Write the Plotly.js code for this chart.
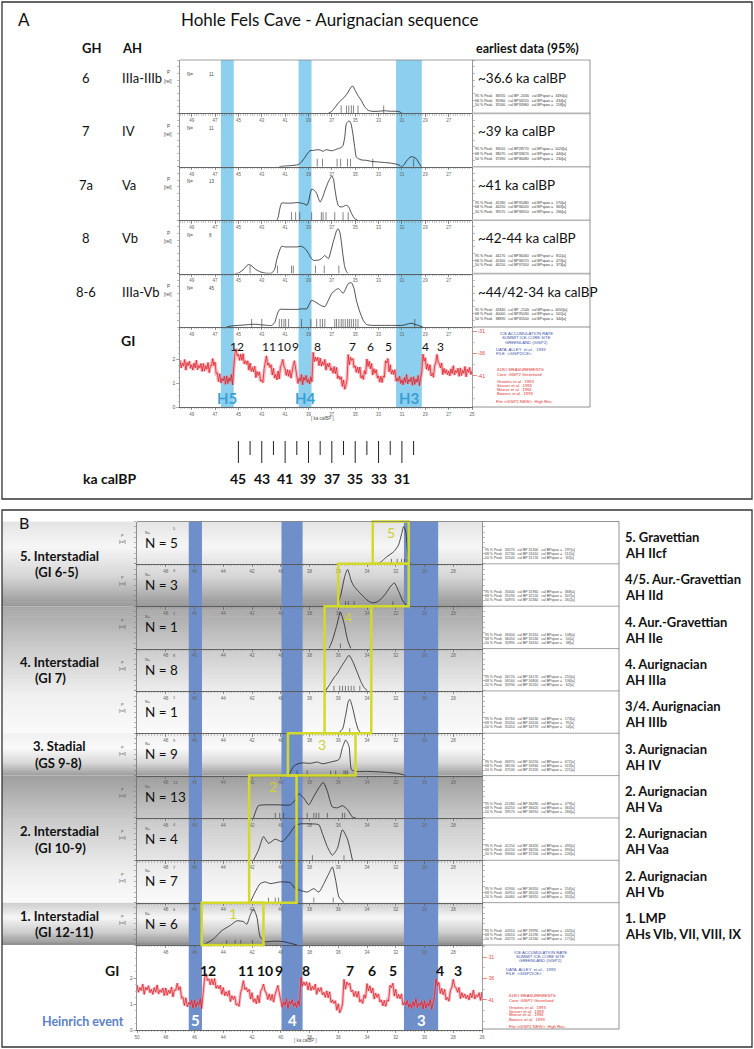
<!DOCTYPE html>
<html><head><meta charset="utf-8">
<script src="https://cdn.plot.ly/plotly-3.0.1.min.js"></script>
<style>html,body{margin:0;padding:0;background:#fff}#chart{width:754px;height:1049px}</style>
</head><body><div id="chart"></div>
<script>
// ================= DATA =================
// ---- Panel A (Hohle Fels, Aurignacian sequence) ----
const aGH = ['6','7','7a','8','8-6'];
const aAH = ['IIIa-IIIb','IV','Va','Vb','IIIa-Vb'];
const aEarliest = ['~36.6 ka calBP','~39 ka calBP','~41 ka calBP','~42-44 ka calBP','~44/42-34 ka calBP'];
const aN = ['11','11','13','8','45'];
const aStats = [
 ['95 % Peak   36920   cal BP -2030   cal BPspan =  3490[a]','68 % Peak   35960   cal BP34520   cal BPspan =   434[a]','50 % Peak   35560   cal BP33980   cal BPspan =   158[a]'],
 ['95 % Peak   39010   cal BP28770   cal BPspan =  1024[a]','68 % Peak   38070   cal BP33670   cal BPspan =   440[a]','50 % Peak   37390   cal BP36080   cal BPspan =   230[a]'],
 ['95 % Peak   41280   cal BP35480   cal BPspan =   570[a]','68 % Peak   40250   cal BP36020   cal BPspan =   363[a]','50 % Peak   39570   cal BP36910   cal BPspan =   266[a]'],
 ['95 % Peak   44170   cal BP36060   cal BPspan =   811[a]','68 % Peak   41300   cal BP36570   cal BPspan =   473[a]','50 % Peak   40150   cal BP37050   cal BPspan =   373[a]'],
 ['95 % Peak   42840   cal BP -2140   cal BPspan =  4050[a]','68 % Peak   40000   cal BP35030   cal BPspan =   501[a]','50 % Peak   38890   cal BP35500   cal BPspan =   340[a]']
];
const aAge1 = [37.3,37.0,36.7,36.46,36.2,35.9,35.6,35.33,35.2,35.0,34.75,34.5,34.2,33.9,33.6,33.0,32.5,32.0,31.5,31.2,31.0];
const aP1   = [0,0.04,0.12,0.19,0.25,0.31,0.4,0.5,0.51,0.43,0.33,0.25,0.13,0.06,0.04,0.04,0.05,0.04,0.04,0.03,0];
const aRug1 = [36.2,35.75,35.55,35.33,35.15,34.76,32.56];
const aAge2 = [41.5,41.3,40.6,39.9,39.6,39.3,39.05,38.87,38.5,38.2,37.95,37.75,37.5,37.25,37.0,36.7,36.46,36.2,36.04,35.9,35.75,35.6,35.5,35.35,35.2,35.05,34.9,34.7,34.5,34.0,33.6,33.0,32.5,32.0,31.5,31.2,31.05,30.85,30.6,30.4,30.2,30.0,29.76,29.55,29.33];
const aP2   = [0,0.01,0.02,0.04,0.09,0.18,0.26,0.3,0.31,0.32,0.31,0.29,0.32,0.31,0.3,0.32,0.34,0.36,0.4,0.55,0.81,0.85,0.86,0.8,0.62,0.38,0.18,0.15,0.13,0.12,0.1,0.09,0.08,0.07,0.05,0.03,0,0.03,0.11,0.16,0.19,0.18,0.15,0.07,0];
const aRug2 = [38.25,37.8,36.55,36.25,35.66,35.4,33.5,30.0];
const aAge3 = [41.7,41.6,41.45,41.3,41.0,40.45,40.0,39.6,39.3,39.15,39.0,38.85,38.73,38.5,38.3,38.1,38.0,37.8,37.6,37.3,37.1,37.0,36.85,36.75,36.6,36.46,36.3,36.1,35.9,35.75,35.6,35.5,35.3,35.05,34.8];
const aP3   = [0,0.05,0.22,0.32,0.32,0.32,0.33,0.32,0.3,0.28,0.34,0.5,0.58,0.56,0.5,0.38,0.34,0.42,0.55,0.72,0.8,0.83,0.76,0.6,0.4,0.28,0.25,0.25,0.27,0.28,0.26,0.22,0.12,0.03,0];
const aRug3 = [40.45,40.1,39.75,38.73,37.9,37.75,37.5,36.75,36.04,35.6];
const aAge4 = [45.3,45.0,44.6,44.16,43.9,43.59,43.2,42.73,42.16,41.9,41.73,41.5,41.3,41.0,40.45,40.0,39.6,39.3,39.0,38.8,38.6,38.3,38.03,37.8,37.6,37.3,37.05,36.9,36.75,36.6,36.46,36.3,36.2,36.05,35.9,35.75,35.6];
const aP4   = [0,0.01,0.07,0.17,0.15,0.09,0.04,0.01,0.01,0.08,0.25,0.42,0.51,0.5,0.5,0.5,0.51,0.47,0.38,0.3,0.25,0.25,0.26,0.3,0.34,0.28,0.45,0.58,0.69,0.8,0.84,0.76,0.62,0.35,0.13,0.04,0];
const aRug4 = [44.0,41.65,40.45,40.3,38.4,37.65,36.4];
const aAge5 = [46.0,45.58,45.0,44.4,43.87,43.4,43.0,42.5,42.16,41.9,41.73,41.6,41.45,41.0,40.45,40.0,39.5,39.15,38.95,38.73,38.5,38.2,37.9,37.6,37.3,37.0,36.75,36.46,36.25,36.04,35.85,35.6,35.33,35.1,34.9,34.6,34.3,34.05,33.6,33.05,32.5,32.0,31.5,31.0,30.75,30.45,30.2,29.9,29.6,29.2];
const aP5   = [0,0.02,0.03,0.04,0.05,0.05,0.04,0.03,0.03,0.08,0.2,0.28,0.33,0.33,0.33,0.33,0.34,0.34,0.42,0.5,0.48,0.44,0.4,0.38,0.5,0.63,0.68,0.72,0.68,0.63,0.7,0.81,0.83,0.72,0.5,0.28,0.12,0.05,0.03,0.03,0.03,0.03,0.03,0.03,0.04,0.06,0.07,0.05,0.03,0];
const aRug5 = [43.87,43.0,41.5,41.3,41.1,40.95,40.7,39.6,38.8,38.3,38.0,37.8,37.6,36.75,36.6,36.4,36.2,36.04,35.85,35.65,35.5,35.33,35.15,34.95,34.76,29.9];
const aBandFrom = [46.5,39.85,31.5];
const aBandTo   = [45.4,38.74,29.3];
const aBandName = ['H5','H4','H3'];
const kaLong  = [45,43,41,39,37,35,33,31];
const kaShort = [44,42,40,38,36,34,32,30];

// ---- GISP2 d18O record (shared by both panels), ka calBP vs permil ----
const giAge = [50.0,49.9,49.8,49.7,49.6,49.5,49.4,49.3,49.2,49.1,49.0,48.9,48.8,48.7,48.6,48.5,48.4,48.3,48.2,48.1,48.0,47.9,47.8,47.7,47.6,47.5,47.4,47.3,47.2,47.1,47.0,46.9,46.8,46.7,46.6,46.5,46.4,46.3,46.2,46.1,46.0,45.9,45.8,45.7,45.6,45.5,45.4,45.3,45.2,45.1,45.0,44.9,44.8,44.7,44.6,44.5,44.4,44.3,44.2,44.1,44.0,43.9,43.8,43.7,43.6,43.5,43.4,43.3,43.2,43.1,43.0,42.9,42.8,42.7,42.6,42.5,42.4,42.3,42.2,42.1,42.0,41.9,41.8,41.7,41.6,41.5,41.4,41.3,41.2,41.1,41.0,40.9,40.8,40.7,40.6,40.5,40.4,40.3,40.2,40.1,40.0,39.9,39.8,39.7,39.6,39.5,39.4,39.3,39.2,39.1,39.0,38.9,38.8,38.7,38.6,38.5,38.4,38.3,38.2,38.1,38.0,37.9,37.8,37.7,37.6,37.5,37.4,37.3,37.2,37.1,37.0,36.9,36.8,36.7,36.6,36.5,36.4,36.3,36.2,36.1,36.0,35.9,35.8,35.7,35.6,35.5,35.4,35.3,35.2,35.1,35.0,34.9,34.8,34.7,34.6,34.5,34.4,34.3,34.2,34.1,34.0,33.9,33.8,33.7,33.6,33.5,33.4,33.3,33.2,33.1,33.0,32.9,32.8,32.7,32.6,32.5,32.4,32.3,32.2,32.1,32.0,31.9,31.8,31.7,31.6,31.5,31.4,31.3,31.2,31.1,31.0,30.9,30.8,30.7,30.6,30.5,30.4,30.3,30.2,30.1,30.0,29.9,29.8,29.7,29.6,29.5,29.4,29.3,29.2,29.1,29.0,28.9,28.8,28.7,28.6,28.5,28.4,28.3,28.2,28.1,28.0,27.9,27.8,27.7,27.6,27.5,27.4,27.3,27.2,27.1,27.0,26.9,26.8,26.7,26.6,26.5,26.4,26.3,26.2,26.1,26.0,25.9,25.8,25.7,25.6,25.5,25.4,25.3,25.2,25.1,25.0];
const giD18O = [-37.5,-39.2,-38.1,-38.8,-37.3,-39.7,-38.0,-38.7,-37.7,-39.3,-38.5,-39.7,-38.1,-39.2,-37.5,-39.6,-38.6,-39.2,-38.2,-40.0,-38.2,-39.9,-38.7,-39.5,-38.0,-40.3,-38.7,-38.7,-37.1,-38.7,-37.9,-40.5,-40.4,-42.3,-40.5,-42.6,-41.6,-42.1,-41.1,-42.9,-41.0,-42.7,-41.5,-42.2,-40.7,-43.0,-39.5,-36.0,-34.9,-36.5,-36.1,-37.5,-36.1,-37.5,-36.0,-38.3,-37.6,-38.4,-37.6,-39.7,-38.1,-40.0,-39.1,-40.1,-38.8,-41.4,-40.0,-40.9,-40.1,-42.2,-41.9,-42.5,-39.4,-38.3,-36.5,-38.6,-38.1,-39.1,-38.5,-40.8,-39.3,-41.5,-40.7,-41.9,-39.9,-41.7,-39.0,-38.4,-37.3,-38.9,-39.4,-40.9,-39.6,-41.1,-39.7,-41.5,-39.8,-38.6,-37.6,-39.4,-41.0,-42.7,-41.5,-42.2,-40.7,-43.0,-41.3,-42.0,-40.9,-42.5,-41.7,-42.8,-41.2,-42.3,-35.7,-37.8,-36.8,-37.6,-36.8,-38.7,-37.0,-38.8,-37.8,-38.6,-37.3,-39.7,-38.2,-39.0,-38.1,-39.8,-39.2,-40.4,-38.9,-40.5,-39.1,-41.6,-41.0,-41.8,-41.2,-43.4,-41.9,-44.0,-43.2,-41.9,-36.2,-38.5,-36.8,-37.5,-37.1,-39.1,-38.7,-40.2,-39.0,-40.4,-39.0,-41.5,-40.9,-41.8,-39.8,-40.6,-37.2,-38.9,-37.7,-39.4,-38.2,-40.8,-39.4,-40.4,-39.6,-41.5,-41.0,-42.4,-41.1,-42.5,-41.0,-41.3,-37.6,-38.1,-37.1,-40.1,-38.5,-40.6,-39.7,-40.7,-39.6,-42.2,-41.5,-42.2,-41.1,-42.7,-41.9,-43.0,-41.4,-42.5,-40.7,-42.8,-41.8,-42.3,-41.3,-43.1,-41.2,-42.9,-41.7,-42.4,-40.9,-43.2,-41.5,-40.2,-36.1,-37.7,-36.9,-39.5,-38.3,-39.8,-38.5,-41.0,-40.4,-41.3,-38.8,-38.1,-36.2,-37.9,-38.2,-39.2,-38.1,-40.7,-39.3,-40.4,-39.6,-40.7,-39.9,-41.0,-39.4,-40.5,-38.7,-40.8,-39.8,-40.3,-39.3,-41.1,-39.2,-40.9,-39.7,-40.4,-38.9,-41.2,-39.5,-40.2,-39.1,-40.7,-39.9];
const giLabel = ['12','11','10','9','8','7','6','5','4','3'];
const giLabelAge = [45.08,42.42,41.1,40.1,38.26,35.2,33.66,32.17,28.95,27.7];

// ---- Panel B ----
const bCulture = ['5. Gravettian','4/5. Aur.-Gravettian','4. Aur.-Gravettian','4. Aurignacian','3/4. Aurignacian','3. Aurignacian','2. Aurignacian','2. Aurignacian','2. Aurignacian','1. LMP'];
const bAH = ['AH IIcf','AH IId','AH IIe','AH IIIa','AH IIIb','AH IV','AH Va','AH Vaa','AH Vb','AHs VIb, VII, VIII, IX'];
const bN = ['5','3','1','8','1','9','13','4','7','6'];
const bStats = [
 ['95 % Peak   33270   cal BP 31300   cal BPspan =   197[a]','68 % Peak   32730   cal BP 31610   cal BPspan =   112[a]','50 % Peak   32540   cal BP 31720   cal BPspan =    82[a]'],
 ['95 % Peak   35640   cal BP 31960   cal BPspan =   368[a]','68 % Peak   35190   cal BP 32120   cal BPspan =   307[a]','50 % Peak   34970   cal BP 32360   cal BPspan =   261[a]'],
 ['95 % Peak   36300   cal BP 35310   cal BPspan =   108[a]','68 % Peak   36050   cal BP 35530   cal BPspan =    50[a]','50 % Peak   35990   cal BP 35610   cal BPspan =    38[a]'],
 ['95 % Peak   36720   cal BP 34170   cal BPspan =   255[a]','68 % Peak   36160   cal BP 34800   cal BPspan =   136[a]','50 % Peak   35930   cal BP 35310   cal BPspan =    62[a]'],
 ['95 % Peak   35760   cal BP 34030   cal BPspan =   173[a]','68 % Peak   35450   cal BP 34500   cal BPspan =    95[a]','50 % Peak   35310   cal BP 34770   cal BPspan =    54[a]'],
 ['95 % Peak   36970   cal BP 30250   cal BPspan =   672[a]','68 % Peak   38130   cal BP 34940   cal BPspan =   319[a]','50 % Peak   37530   cal BP 35320   cal BPspan =   221[a]'],
 ['95 % Peak   41280   cal BP 36490   cal BPspan =   479[a]','68 % Peak   40250   cal BP 36620   cal BPspan =   363[a]','50 % Peak   39570   cal BP 36910   cal BPspan =   266[a]'],
 ['95 % Peak   41250   cal BP 36320   cal BPspan =   493[a]','68 % Peak   40150   cal BP 36250   cal BPspan =   390[a]','50 % Peak   39460   cal BP 37200   cal BPspan =   226[a]'],
 ['95 % Peak   41900   cal BP 36350   cal BPspan =   554[a]','68 % Peak   40910   cal BP 36520   cal BPspan =   439[a]','50 % Peak   40460   cal BP 36910   cal BPspan =   355[a]'],
 ['95 % Peak   44310   cal BP 39990   cal BPspan =   432[a]','68 % Peak   43610   cal BP 41590   cal BPspan =   202[a]','50 % Peak   43270   cal BP 41560   cal BPspan =   171[a]']
];
const bAge1 = [33.3,33.0,32.7,32.4,32.1,31.8,31.6,31.45,31.3,31.15,31.0];
const bP1   = [0,0.05,0.15,0.22,0.3,0.45,0.7,0.88,0.75,0.2,0];
const bRug1 = [32.3,31.9,31.6,31.4,31.2];
const bAge2 = [36.05,35.8,35.55,35.35,35.1,34.9,34.6,34.4,34.1,33.9,33.6,33.3,33.0,32.7,32.4,32.1,31.8,31.5,31.2];
const bP2   = [0,0.3,0.7,0.87,0.6,0.47,0.35,0.28,0.18,0.12,0.08,0.1,0.18,0.3,0.45,0.55,0.35,0.12,0];
const bRug2 = [35.5,35.3,34.9,32.2];
const bAge3 = [36.65,36.4,36.1,35.85,35.6,35.35,35.13];
const bP3   = [0,0.2,0.55,0.86,0.6,0.2,0];
const bRug3 = [35.85];
const bAge4 = [36.88,36.6,36.3,36.05,35.83,35.55,35.25,35.0,34.67,34.4,34.2,33.97];
const bP4   = [0,0.15,0.31,0.42,0.55,0.7,0.84,0.7,0.43,0.2,0.08,0];
const bRug4 = [36.3,35.9,35.7,35.5,35.3,35.1,34.9,34.5];
const bAge5 = [36.0,35.7,35.5,35.3,35.2,35.0,34.8,34.6,34.4];
const bP5   = [0,0.1,0.4,0.75,0.8,0.6,0.3,0.08,0];
const bRug5 = [35.2];
const bAge6 = [39.45,39.1,38.8,38.5,37.93,37.46,37.1,36.53,35.95,35.71,35.48,35.25,35.08,34.78,33.97,32.8,31.87,31.29];
const bP6   = [0,0.22,0.28,0.3,0.29,0.32,0.28,0.32,0.38,0.66,0.84,0.69,0.14,0.1,0.1,0.08,0.05,0];
const bRug6 = [38.86,38.16,36.53,36.18,35.6,35.48,35.36];
const bAge7 = [41.9,41.55,41.08,40.26,39.33,38.98,38.75,38.4,38.05,37.7,37.35,37.04,36.76,36.41,36.06,35.71,35.36,35.01,34.78];
const bP7   = [0,0.29,0.31,0.31,0.31,0.43,0.57,0.47,0.31,0.51,0.71,0.84,0.63,0.26,0.24,0.29,0.2,0.02,0];
const bRug7 = [40.38,40.07,39.8,38.16,37.7,37.53,37.35,36.76,35.71,35.55];
const bAge8 = [41.9,41.55,41.2,40.85,40.38,39.91,39.45,38.98,38.63,37.93,37.35,37.11,36.76,36.41,36.06,35.71,35.36,35.01];
const bP8   = [0,0.24,0.56,0.4,0.5,0.44,0.6,0.82,0.86,0.86,0.84,0.64,0.32,0.12,0.28,0.72,0.5,0];
const bRug8 = [37.8,35.6];
const bAge9 = [42.13,41.78,41.43,41.08,40.73,40.03,39.33,38.98,38.63,38.16,37.7,37.35,37.0,36.65,36.41,36.18,35.95,35.6];
const bP9   = [0,0.25,0.45,0.49,0.45,0.49,0.47,0.33,0.29,0.25,0.33,0.25,0.45,0.69,0.84,0.53,0.13,0];
const bRug9 = [40.85,40.38,40.15,37.7,36.35];
const bAge10 = [45.39,44.69,44.1,43.52,43.06,42.59,42.36,42.13,41.9,41.66,41.43,41.08,40.5,39.8,39.33,38.86];
const bP10   = [0,0.14,0.34,0.46,0.57,0.55,0.49,0.7,0.85,0.66,0.19,0.08,0.09,0.08,0.04,0];
const bRug10 = [43.76,43.17,42.78,41.97];
const bBandFrom = [46.4,39.95,31.43];
const bBandTo   = [45.48,38.48,29.05];
const bBandName = ['5','4','3'];
const bBoxFrom  = [33.6,36.0,36.95,39.5,42.2,45.5];
const bBoxTo    = [31.1,31.1,33.7,34.8,38.9,41.2];
const bBoxRow0  = [0,1,2,5,6,9];
const bBoxRow1  = [0,1,4,5,8,9];
const bBoxName  = ['5','','4','3','2','1'];
const bGroupTitle = ['5. Interstadial','4. Interstadial','3. Stadial','2. Interstadial','1. Interstadial'];
const bGroupSub   = ['(GI 6-5)','(GI 7)','(GS 9-8)','(GI 10-9)','(GI 12-11)'];
const bGroupRow0  = [0,2,5,6,9];
const bGroupRow1  = [1,4,5,8,9];

// ================= DRAWING =================
const W=754,H=1049;
const px=x=>x/W, py=y=>1-y/H;
const id=k=>k===1?'':String(k);
const nb=s=>s.replace(/ /g,'\u00a0');
const traces=[], shapes=[], annotations=[];
const layout={width:W,height:H,margin:{l:0,r:0,t:0,b:0},paper_bgcolor:'#ffffff',plot_bgcolor:'rgba(0,0,0,0)',showlegend:false,font:{family:'Lato',color:'#111'},hovermode:false};

function line(x0,y0,x1,y1,color,width,layer){shapes.push({type:'line',xref:'paper',yref:'paper',x0:px(x0),y0:py(y0),x1:px(x1),y1:py(y1),line:{color:color,width:width},layer:layer||'above'});}
function txt(t,x,y,o){o=o||{};annotations.push({text:t,xref:'paper',yref:'paper',x:px(x),y:py(y),xanchor:o.xa||'left',yanchor:o.ya||'middle',showarrow:false,borderpad:0,font:{family:o.f||'Lato',size:o.s||12,color:o.c||'#111'}});}
function grad(y0,y1,stops){
  const n=Math.ceil((y1-y0)/2);
  for(let i=0;i<n;i++){
    const f=(i+0.5)/n; let g=255;
    for(let j=0;j<stops.length-1;j++){ if(f>=stops[j][0]&&f<=stops[j+1][0]){const t=(f-stops[j][0])/(stops[j+1][0]-stops[j][0]); g=Math.round(stops[j][1]+(stops[j+1][1]-stops[j][1])*t);} }
    shapes.push({type:'rect',xref:'paper',yref:'paper',x0:px(2),x1:px(482),y0:py(y0+(y1-y0)*i/n),y1:py(Math.min(y1,y0+(y1-y0)*(i+1)/n+0.6)),fillcolor:'rgb('+g+','+g+','+g+')',line:{width:0},layer:'below'});
  }
}
const tinyF={family:'Liberation Sans',size:4.5,color:'#666'};
const minorX={tickmode:'linear',tick0:0,dtick:0.2,ticks:'outside',ticklen:1.5,tickwidth:0.4,tickcolor:'#777',showgrid:false};
function rowAxes(k,x0,x1,top,bot,range,tv){
  layout['xaxis'+id(k)]={domain:[px(x0),px(x1)],range:range,anchor:'y'+id(k),tickmode:'array',tickvals:tv,ticktext:tv.map(String),tickfont:tinyF,ticks:'outside',ticklen:2.5,tickwidth:0.6,tickcolor:'#555',showline:true,linecolor:'#555',linewidth:0.9,showgrid:false,zeroline:false,fixedrange:true,minor:minorX};
  layout['yaxis'+id(k)]={domain:[py(bot),py(top)],range:[0,1],anchor:'x'+id(k),showticklabels:false,ticks:'outside',ticklen:2,tickwidth:0.5,tickcolor:'#777',tickmode:'linear',tick0:0,dtick:0.125,showline:true,linecolor:'#666',linewidth:0.7,mirror:'ticks',showgrid:false,zeroline:false,fixedrange:true};
}
function rug(ages,h,xa,ya){const x=[],y=[];ages.forEach(a=>{x.push(a,a,null);y.push(0,h,null);});traces.push({type:'scatter',mode:'lines',x:x,y:y,xaxis:xa,yaxis:ya,line:{color:'#333',width:0.6},hoverinfo:'skip'});}

// ---------- Panel frames ----------
shapes.push({type:'rect',xref:'paper',yref:'paper',x0:px(2),x1:px(752),y0:py(2),y1:py(499),line:{color:'#333',width:1.3},fillcolor:'rgba(0,0,0,0)',layer:'above'});
shapes.push({type:'rect',xref:'paper',yref:'paper',x0:px(2),x1:px(752),y0:py(510),y1:py(1047),line:{color:'#333',width:1.3},fillcolor:'rgba(0,0,0,0)',layer:'above'});

// ---------- B background gradients ----------
const bRowTop=[]; for(let i=0;i<=10;i++) bRowTop.push(521.5+42.35*i);
const gStops=[
 [[0,228],[0.3,246],[0.65,214],[1,150]],
 [[0,165],[0.3,200],[0.7,240],[1,250]],
 [[0,240],[0.35,250],[0.7,215],[1,155]],
 [[0,158],[0.3,196],[0.75,238],[1,250]],
 [[0,205],[0.35,246],[0.7,205],[1,140]]
];
bGroupRow0.forEach((r0,g)=>grad(bRowTop[r0],bRowTop[bGroupRow1[g]+1],gStops[g]));

// ---------- Panel A ----------
const aRowTop=[60,113.4,166.8,220.2,273.6,327];
const A0=180,A1=472,AGB=407;
const aAges=[aAge1,aAge2,aAge3,aAge4,aAge5], aPs=[aP1,aP2,aP3,aP4,aP5], aRugs=[aRug1,aRug2,aRug3,aRug4,aRug5];
const oddTicks=[49,47,45,43,41,39,37,35,33,31,29,27];
aAges.forEach((ages,i)=>{
  const k=i+1;
  rowAxes(k,A0,A1,aRowTop[i],aRowTop[i+1],[50,25],oddTicks);
  traces.push({type:'scatter',mode:'lines',x:ages,y:aPs[i],xaxis:'x'+id(k),yaxis:'y'+id(k),line:{color:'#222',width:0.8,shape:'spline',smoothing:0.6},hoverinfo:'skip'});
  rug(aRugs[i],0.15,'x'+id(k),'y'+id(k));
  const t=aRowTop[i];
  txt(aGH[i],86,t+18,{xa:'center',s:13});
  txt(aAH[i],121,t+18,{s:13});
  txt('P',168,t+13,{xa:'center',f:'Liberation Sans',s:4.5,c:'#444'});
  txt('[rel]',168,t+21,{xa:'center',f:'Liberation Sans',s:4.5,c:'#444'});
  txt('N=',186,t+15,{f:'Liberation Sans',s:4.5,c:'#444'});
  txt(aN[i],208,t+15,{f:'Liberation Sans',s:4.5,c:'#444'});
  txt(aEarliest[i],477,t+18,{s:13.5});
  aStats[i].forEach((s,j)=>txt(nb(s),474,t+36+j*4.6,{f:'Liberation Sans',s:3.6,c:'#333'}));
  line(472,aRowTop[i+1],590,aRowTop[i+1],'#b5b5b5',1.6);
});
// GI panel A
layout.xaxis6={domain:[px(A0),px(A1)],range:[50,25],anchor:'y6',tickmode:'array',tickvals:[49,47,45,43,41,39,37,35,33,31,29,27,25],ticktext:['49','47','45','43','41','39','37','35','33','31','29','27','25'],tickfont:tinyF,ticks:'outside',ticklen:2.5,tickwidth:0.6,tickcolor:'#555',showline:true,linecolor:'#555',linewidth:0.9,showgrid:false,zeroline:false,fixedrange:true,minor:minorX};
layout.yaxis6={domain:[py(AGB),py(327)],range:[0,3.34],anchor:'x6',tickmode:'array',tickvals:[0,1,2],ticktext:['0','1','2'],tickfont:{family:'Liberation Sans',size:5,color:'#555'},ticks:'outside',ticklen:3,tickwidth:0.5,tickcolor:'#666',showline:true,linecolor:'#666',linewidth:0.7,showgrid:false,zeroline:false,fixedrange:true,
  minor:{tickmode:'linear',tick0:0,dtick:0.25,ticks:'outside',ticklen:1.5,tickcolor:'#888',showgrid:false}};
layout.yaxis7={overlaying:'y6',side:'right',anchor:'x6',range:[-48,-30],tickmode:'array',tickvals:[-31,-36,-41],ticktext:['-31','-36','-41'],tickfont:{family:'Liberation Sans',size:5,color:'#e03a3a'},ticks:'outside',ticklen:4,tickwidth:0.6,tickcolor:'#e05050',showline:true,linecolor:'#777',linewidth:0.7,showgrid:false,zeroline:false,fixedrange:true,
  minor:{tickmode:'linear',tick0:-31,dtick:2.5,ticks:'outside',ticklen:2,tickcolor:'#e88',showgrid:false}};
traces.push({type:'scatter',mode:'lines',x:[null],y:[null],xaxis:'x6',yaxis:'y6',hoverinfo:'skip'});
traces.push({type:'scatter',mode:'lines',x:giAge,y:giD18O,xaxis:'x6',yaxis:'y7',line:{color:'rgba(242,130,140,0.55)',width:3.5},hoverinfo:'skip'});
traces.push({type:'scatter',mode:'lines',x:giAge,y:giD18O,xaxis:'x6',yaxis:'y7',line:{color:'#d8141e',width:0.7},hoverinfo:'skip'});
// A bands
aBandFrom.forEach((f,i)=>{
  shapes.push({type:'rect',xref:'x6',yref:'paper',x0:f,x1:aBandTo[i],y0:py(AGB),y1:py(60),fillcolor:'#8ccfee',line:{width:0},layer:'below'});
  annotations.push({text:'<b>'+aBandName[i]+'</b>',xref:'x6',yref:'paper',x:(f+aBandTo[i])/2,y:py(398),xanchor:'center',yanchor:'middle',showarrow:false,font:{family:'Lato',size:15,color:'#3a9fd5'}});
});
giLabel.forEach((l,i)=>annotations.push({text:l,xref:'x6',yref:'paper',x:giLabelAge[i],y:py(346),xanchor:'center',yanchor:'middle',showarrow:false,font:{family:'Lato',size:12,color:'#111'}}));
kaLong.forEach(v=>{shapes.push({type:'line',xref:'x6',yref:'paper',x0:v,x1:v,y0:py(441),y1:py(463),line:{color:'#222',width:1}});
  annotations.push({text:'<b>'+v+'</b>',xref:'x6',yref:'paper',x:v,y:py(478),xanchor:'center',yanchor:'middle',showarrow:false,font:{family:'Lato',size:14,color:'#111'}});});
kaShort.forEach(v=>shapes.push({type:'line',xref:'x6',yref:'paper',x0:v,x1:v,y0:py(441),y1:py(455),line:{color:'#222',width:1}}));
// A frames/texts
line(180,60,590,60,'#888',0.8);
line(590,60,590,AGB,'#777',0.8);
line(472,AGB,590,AGB,'#777',0.8);
txt('A',24,20,{xa:'center',s:17});
txt('Hohle Fels Cave - Aurignacian sequence',180,20,{s:17});
txt('<b>GH</b>',81,48,{s:13});
txt('<b>AH</b>',121,48,{s:13});
txt('<b>earliest data (95%)</b>',475,48,{s:12.5});
txt('<b>GI</b>',128,340,{xa:'center',s:14});
txt('<b>ka calBP</b>',137,478,{xa:'right',s:14});
txt('[ ka calBP ]',322,418,{xa:'center',f:'Liberation Sans',s:4.5,c:'#555'});
const giTextBlue=['ICE ACCUMULATION RATE','SUMMIT ICE-CORE SITE','GREENLAND (GISP2)'];
giTextBlue.forEach((s,j)=>txt(s,526,333+j*4.5,{xa:'center',f:'Liberation Sans',s:4.2,c:'#3a4fa8'}));
txt('DATA  ALLEY  et al.,  1993',495,349,{f:'Liberation Sans',s:4.2,c:'#3a4fa8'});
txt('FILE  <GISP2ICE>',495,353.5,{f:'Liberation Sans',s:4.2,c:'#3a4fa8'});
['δ18O MEASUREMENTS','Core: GISP2 Greenland','Grootes et al.  1993','Stuiver et al.  1993','Meese et al.  1994','Bowers et al.  1993'].forEach((s,j)=>txt(s,496,[370,374.5,381,385,389,393][j],{f:'Liberation Sans',s:4.2,c:'#e03030'}));
txt('File <GISP2.NEW>  High Res.',495,401.5,{f:'Liberation Sans',s:4.2,c:'#e03030'});

// ---------- Panel B ----------
const B0=137,B1=482;
const bAges=[bAge1,bAge2,bAge3,bAge4,bAge5,bAge6,bAge7,bAge8,bAge9,bAge10];
const bPs=[bP1,bP2,bP3,bP4,bP5,bP6,bP7,bP8,bP9,bP10];
const bRugs=[bRug1,bRug2,bRug3,bRug4,bRug5,bRug6,bRug7,bRug8,bRug9,bRug10];
const evenTicks=[48,46,44,42,40,38,36,34,32,30,28];
bAges.forEach((ages,i)=>{
  const k=i+8;
  rowAxes(k,B0,B1,bRowTop[i],bRowTop[i+1],[50,26],evenTicks);
  traces.push({type:'scatter',mode:'lines',x:ages,y:bPs[i],xaxis:'x'+k,yaxis:'y'+k,line:{color:'#222',width:0.8,shape:'spline',smoothing:0.6},hoverinfo:'skip'});
  rug(bRugs[i],0.12,'x'+k,'y'+k);
  const t=bRowTop[i];
  txt('P',122,t+14,{xa:'center',f:'Liberation Sans',s:4,c:'#555'});
  txt('[rel]',122,t+20,{xa:'center',f:'Liberation Sans',s:4,c:'#555'});
  txt('N=',144,t+11,{f:'Liberation Sans',s:3.8,c:'#555'});
  txt(bN[i],172,t+7,{f:'Liberation Sans',s:4,c:'#555'});
  txt('N = '+bN[i],144,t+21,{s:13.5,c:'#111'});
  bStats[i].forEach((s,j)=>txt(nb(s),484,t+28.5+j*4,{f:'Liberation Sans',s:3.5,c:'#444'}));
  line(482,bRowTop[i+1],619,bRowTop[i+1],'#999',0.9);
  txt('<b>'+bCulture[i]+'</b>',624,t+15.5,{s:13});
  txt('<b>'+bAH[i]+'</b>',624,t+31.5,{s:13});
});
layout.xaxis18={domain:[px(B0),px(B1)],range:[50,26],anchor:'y18',tickmode:'array',tickvals:[50,48,46,44,42,40,38,36,34,32,30,28,26],ticktext:['50','48','46','44','42','40','38','36','34','32','30','28','26'],tickfont:tinyF,ticks:'outside',ticklen:2.5,tickwidth:0.6,tickcolor:'#555',showline:true,linecolor:'#555',linewidth:0.9,showgrid:false,zeroline:false,fixedrange:true,minor:minorX};
layout.yaxis18={domain:[py(1030),py(945)],range:[0,3.27],anchor:'x18',tickmode:'array',tickvals:[0,1,2],ticktext:['0','1','2'],tickfont:{family:'Liberation Sans',size:4.5,color:'#555'},ticks:'outside',ticklen:3,tickwidth:0.5,tickcolor:'#666',showline:true,linecolor:'#666',linewidth:0.7,showgrid:false,zeroline:false,fixedrange:true,
  minor:{tickmode:'linear',tick0:0,dtick:0.25,ticks:'outside',ticklen:1.5,tickcolor:'#888',showgrid:false}};
layout.yaxis19={overlaying:'y18',side:'right',anchor:'x18',range:[-48.0,-28.2],tickmode:'array',tickvals:[-31,-36,-41],ticktext:['-31','-36','-41'],tickfont:{family:'Liberation Sans',size:4.5,color:'#e03a3a'},ticks:'outside',ticklen:4,tickwidth:0.6,tickcolor:'#e05050',showline:true,linecolor:'#777',linewidth:0.7,showgrid:false,zeroline:false,fixedrange:true,
  minor:{tickmode:'linear',tick0:-31,dtick:2.5,ticks:'outside',ticklen:2,tickcolor:'#e88',showgrid:false}};
traces.push({type:'scatter',mode:'lines',x:[null],y:[null],xaxis:'x18',yaxis:'y18',hoverinfo:'skip'});
traces.push({type:'scatter',mode:'lines',x:giAge,y:giD18O,xaxis:'x18',yaxis:'y19',line:{color:'rgba(242,130,140,0.55)',width:3},hoverinfo:'skip'});
traces.push({type:'scatter',mode:'lines',x:giAge,y:giD18O,xaxis:'x18',yaxis:'y19',line:{color:'#d8141e',width:0.7},hoverinfo:'skip'});
// B bands
bBandFrom.forEach((f,i)=>{
  shapes.push({type:'rect',xref:'x18',yref:'paper',x0:f,x1:bBandTo[i],y0:py(1030),y1:py(bRowTop[0]),fillcolor:'#6f8fcb',line:{width:0},layer:'below'});
  annotations.push({text:'<b>'+bBandName[i]+'</b>',xref:'x18',yref:'paper',x:(f+bBandTo[i])/2,y:py(1020),xanchor:'center',yanchor:'middle',showarrow:false,font:{family:'Lato',size:15,color:'#ffffff'}});
});
// yellow boxes
bBoxFrom.forEach((f,i)=>{
  shapes.push({type:'rect',xref:'x18',yref:'paper',x0:f,x1:bBoxTo[i],y0:py(bRowTop[bBoxRow1[i]+1]),y1:py(bRowTop[bBoxRow0[i]]),line:{color:'#d3d92a',width:2.5},fillcolor:'rgba(0,0,0,0)',layer:'above'});
  if(bBoxName[i]) annotations.push({text:bBoxName[i],xref:'x18',yref:'paper',x:(f+bBoxTo[i])/2,y:py(bRowTop[bBoxRow0[i]]+11),xanchor:'center',yanchor:'middle',showarrow:false,font:{family:'Lato',size:14,color:'#cfcf36'}});
});
giLabel.forEach((l,i)=>annotations.push({text:'<b>'+l+'</b>',xref:'x18',yref:'paper',x:giLabelAge[i],y:py(970),xanchor:'center',yanchor:'middle',showarrow:false,font:{family:'Lato',size:14,color:'#111'}}));
// group labels
bGroupTitle.forEach((s,g)=>{
  const yc=(bRowTop[bGroupRow0[g]]+bRowTop[bGroupRow1[g]+1])/2;
  txt('<b>'+s+'</b>',59,yc-8,{xa:'center',s:13});
  txt('<b>'+bGroupSub[g]+'</b>',34,yc+8.5,{s:13});
});
line(137,bRowTop[0],619,bRowTop[0],'#777',0.8);
line(619,bRowTop[0],619,1029,'#777',0.8);
line(482,1029,619,1029,'#777',0.8);
txt('B',24,522,{xa:'center',s:16});
txt('<b>GI</b>',112,970,{xa:'center',s:14});
txt('<b>Heinrich event</b>',83,1021,{xa:'center',s:12.5,c:'#5b7fc4'});
txt('[ ka calBP ]',305,1040,{xa:'center',f:'Liberation Sans',s:4.5,c:'#555'});
giTextBlue.forEach((s,j)=>txt(s,540,952+j*4.4,{xa:'center',f:'Liberation Sans',s:4.2,c:'#3a4fa8'}));
txt('DATA  ALLEY  et al.,  1993',505,969,{f:'Liberation Sans',s:4.2,c:'#3a4fa8'});
txt('FILE  <GISP2ICE>',505,973,{f:'Liberation Sans',s:4.2,c:'#3a4fa8'});
['δ18O MEASUREMENTS','Core: GISP2 Greenland','Grootes et al.  1993','Stuiver et al.  1993','Meese et al.  1994','Bowers et al.  1993'].forEach((s,j)=>txt(s,508,[995,1000,1007,1011,1015,1019][j],{f:'Liberation Sans',s:4.2,c:'#e03030'}));
txt('File <GISP2.NEW>  High Res.',508,1026,{f:'Liberation Sans',s:4.2,c:'#e03030'});

layout.shapes=shapes;
layout.annotations=annotations;
Plotly.newPlot('chart',traces,layout,{staticPlot:true,displayModeBar:false});
</script></body></html>
